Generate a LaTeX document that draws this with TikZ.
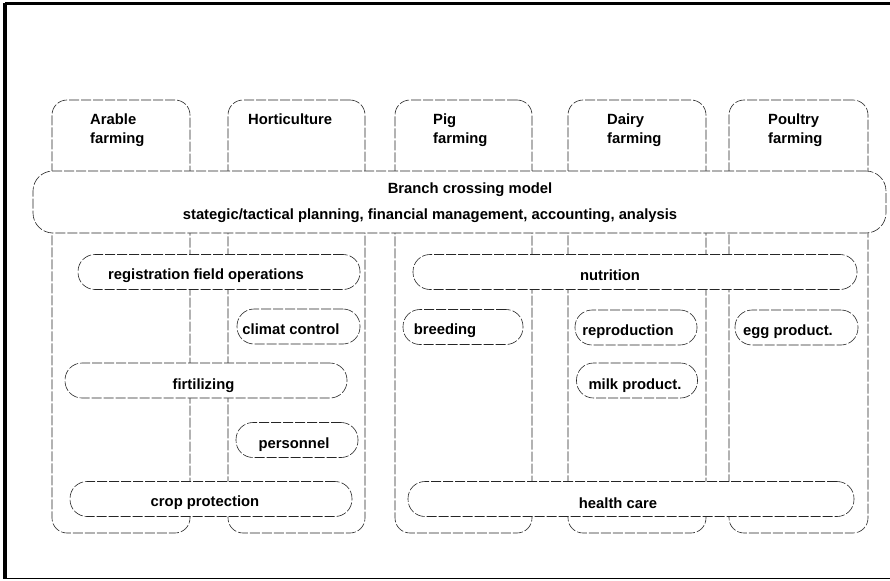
\documentclass[tikz,border=0pt]{standalone}
\usepackage{fontspec}
\setmainfont{Liberation Sans}
\begin{document}
\begin{tikzpicture}[x=1pt,y=-1pt,
  ln/.style={draw=black!85, line width=0.6pt, dash pattern=on 10pt off 2pt},
  colbox/.style={ln, rectangle, rounded corners=15pt, anchor=north west, inner sep=0pt, outer sep=0pt, minimum width=#1, minimum height=433pt},
  bigbox/.style={ln, fill=white, rectangle, rounded corners=20pt, anchor=north west, inner sep=0pt, outer sep=0pt},
  pill/.style={ln, fill=white, rectangle, rounded corners=17pt, inner sep=0pt, outer sep=0pt, minimum height=35pt, minimum width=#1},
  txt/.style={font=\bfseries\fontsize{14.8}{17}\selectfont, inner sep=0pt, anchor=base},
  hdr/.style={font=\bfseries\fontsize{14.8}{19}\selectfont, inner sep=0pt, align=left, anchor=north west},
  frame/.style={line width=#1, black}
]
\useasboundingbox (0,0) rectangle (890,580);
% frame
\coordinate (ftl) at (5,3.5);
\coordinate (fbl) at (5,578.5);
\coordinate (ftr) at (890,3.5);
\coordinate (fbr) at (890,578.5);
\draw[frame=3.5pt] (ftl) -- (fbl);
\draw[frame=3pt] (ftl) -- (ftr);
\draw[frame=1.5pt] (fbl) -- (fbr);
% columns
\node[colbox=138pt] (arable) at (52,100) {};
\node[colbox=137pt] (horti) at (228,100) {};
\node[colbox=137pt] (pig) at (395,100) {};
\node[colbox=138pt] (dairy) at (568,100) {};
\node[colbox=139pt] (poultry) at (729,100) {};
% column headers
\node[hdr] (tarable) at (90,113.5) {Arable\\farming};
\node[hdr] (thorti) at (248,113.5) {Horticulture};
\node[hdr] (tpig) at (433,113.5) {Pig\\farming};
\node[hdr] (tdairy) at (607,113.5) {Dairy\\farming};
\node[hdr] (tpoultry) at (768,113.5) {Poultry\\farming};
% branch crossing model
\node[bigbox, minimum width=853pt, minimum height=62pt] (branch) at (33,171) {};
\node[txt] (tbranch1) at (470,193.5) {Branch crossing model};
\node[txt] (tbranch2) at (430,219.5) {stategic/tactical planning, financial management, accounting, analysis};
% pills
\node[pill=282pt] (reg) at (219,272) {};
\node[txt] (treg) at (206,279) {registration field operations};
\node[pill=123pt] (climat) at (298.5,326.5) {};
\node[txt] (tclimat) at (291,334) {climat control};
\node[pill=282pt] (firt) at (206,380.5) {};
\node[txt] (tfirt) at (203.5,389) {firtilizing};
\node[pill=122pt] (pers) at (297,440) {};
\node[txt] (tpers) at (294,448) {personnel};
\node[pill=282pt] (crop) at (211,499) {};
\node[txt] (tcrop) at (205,506.5) {crop protection};
\node[pill=444pt] (nutr) at (635,272) {};
\node[txt] (tnutr) at (610,280) {nutrition};
\node[pill=120pt] (breed) at (463,327) {};
\node[txt] (tbreed) at (445,334) {breeding};
\node[pill=122pt] (repro) at (636,327.5) {};
\node[txt] (trepro) at (628,335) {reproduction};
\node[pill=123pt] (egg) at (796.5,327.5) {};
\node[txt] (tegg) at (788,335) {egg product.};
\node[pill=121pt] (milk) at (637,380.5) {};
\node[txt] (tmilk) at (635,389) {milk product.};
\node[pill=446pt] (health) at (631,499) {};
\node[txt] (thealth) at (618,508) {health care};
\end{tikzpicture}
\end{document}
